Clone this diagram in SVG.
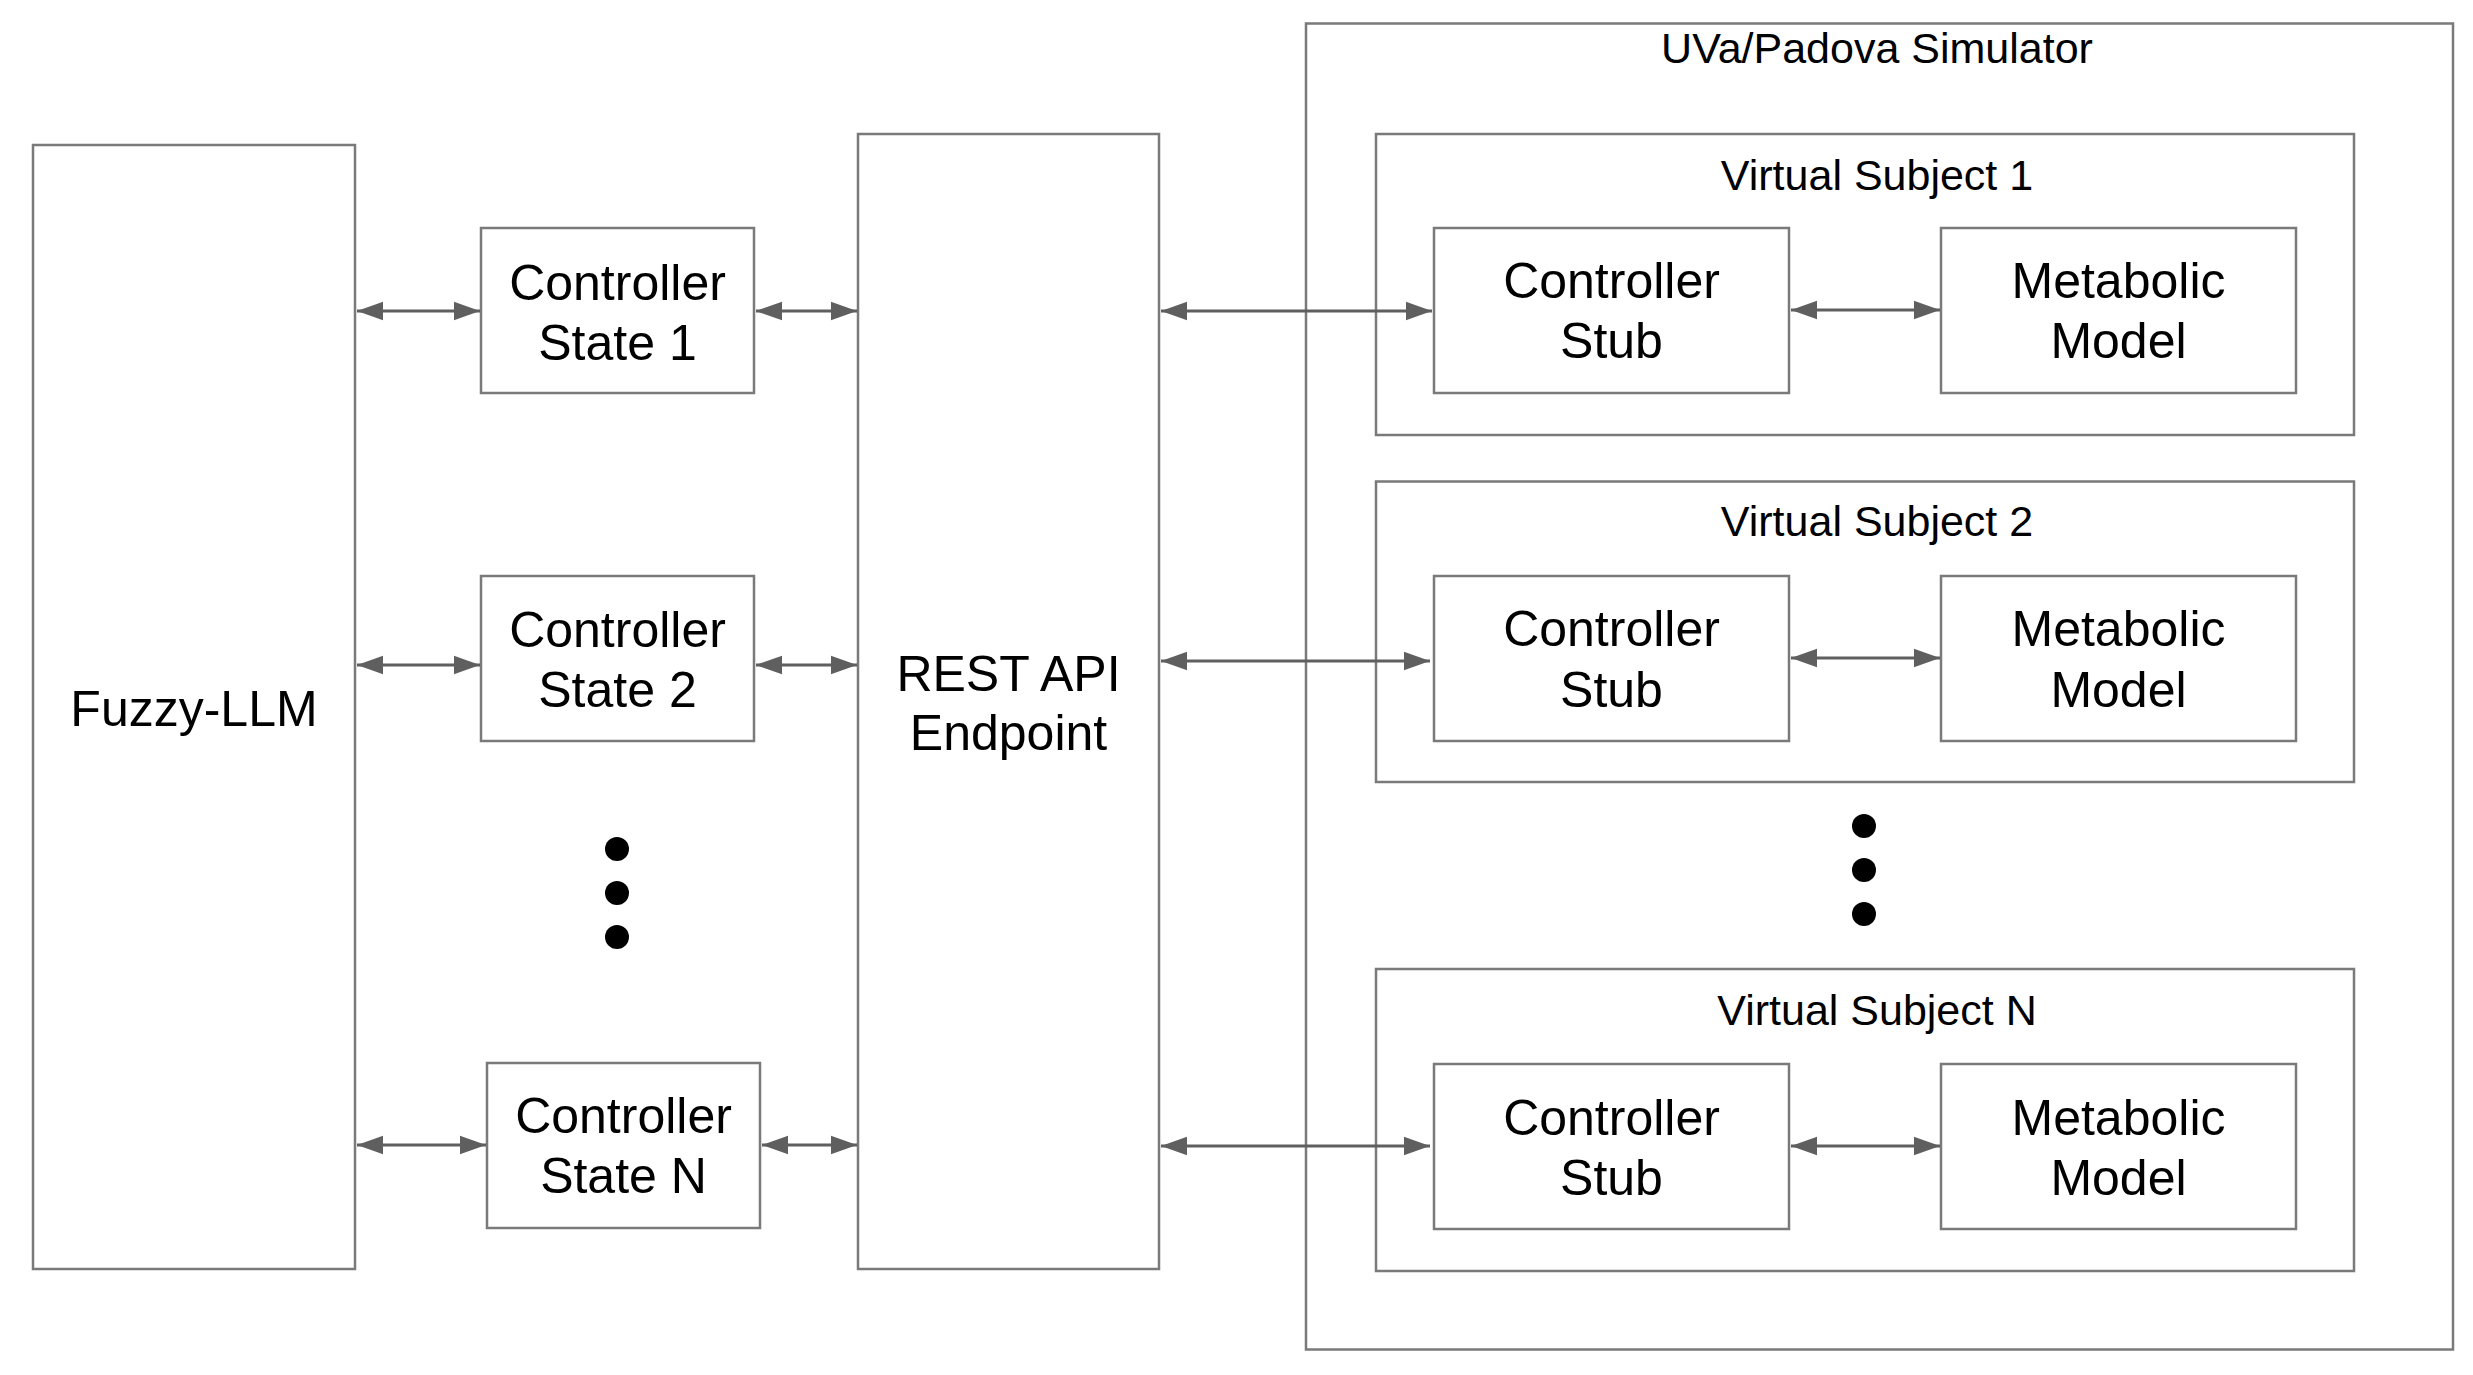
<svg xmlns="http://www.w3.org/2000/svg" width="2473" height="1375" viewBox="0 0 2473 1375">
<style>
.box{fill:#fff;stroke:#7a7a7a;stroke-width:2.5}
.t{font-family:"Liberation Sans",Arial,sans-serif;font-size:50px;fill:#000;text-anchor:middle}
.s{font-size:43px}
.c{stroke:#5f5f5f;stroke-width:3;fill:none;marker-start:url(#ah);marker-end:url(#ah)}
.dot{fill:#000}
</style>
<defs>
<marker id="ah" markerUnits="userSpaceOnUse" markerWidth="26" markerHeight="20" viewBox="0 0 25 18" refX="25" refY="9" orient="auto-start-reverse">
<path d="M0,0 L25,9 L0,18 z" fill="#5f5f5f"/>
</marker>
</defs>
<rect width="2473" height="1375" fill="#fff"/>
<g id="simulator">
<rect class="box" x="1306" y="23.5" width="1147" height="1326"/>
<text class="t s" x="1877" y="63">UVa/Padova Simulator</text>
</g>
<g id="fuzzy-llm">
<rect class="box" x="33" y="145" width="322" height="1124"/>
<text class="t" x="194" y="726">Fuzzy-LLM</text>
</g>
<g id="controller-state-1">
<rect class="box" x="481" y="228" width="273" height="165"/>
<text class="t" x="617.5" y="300">Controller</text>
<text class="t" x="617.5" y="360">State 1</text>
</g>
<g id="controller-state-2">
<rect class="box" x="481" y="576" width="273" height="165"/>
<text class="t" x="617.5" y="647">Controller</text>
<text class="t" x="617.5" y="707">State 2</text>
</g>
<g id="controller-state-n">
<rect class="box" x="487" y="1063" width="273" height="165"/>
<text class="t" x="623.5" y="1133">Controller</text>
<text class="t" x="623.5" y="1193">State N</text>
</g>
<g id="dots-left">
<circle class="dot" cx="617" cy="849" r="12"/>
<circle class="dot" cx="617" cy="893" r="12"/>
<circle class="dot" cx="617" cy="937" r="12"/>
</g>
<g id="rest-api">
<rect class="box" x="858" y="134" width="301" height="1135"/>
<text class="t" x="1008.5" y="691">REST API</text>
<text class="t" x="1008.5" y="750">Endpoint</text>
</g>
<g id="virtual-subject-1">
<rect class="box" x="1376" y="134" width="978" height="301"/>
<text class="t s" x="1877" y="190">Virtual Subject 1</text>
</g>
<g id="controller-stub-1">
<rect class="box" x="1434" y="228" width="355" height="165"/>
<text class="t" x="1611.5" y="298">Controller</text>
<text class="t" x="1611.5" y="358">Stub</text>
</g>
<g id="metabolic-model-1">
<rect class="box" x="1941" y="228" width="355" height="165"/>
<text class="t" x="2118.5" y="298">Metabolic</text>
<text class="t" x="2118.5" y="358">Model</text>
</g>
<g id="virtual-subject-2">
<rect class="box" x="1376" y="481.5" width="978" height="300.5"/>
<text class="t s" x="1877" y="536">Virtual Subject 2</text>
</g>
<g id="controller-stub-2">
<rect class="box" x="1434" y="576" width="355" height="165"/>
<text class="t" x="1611.5" y="646">Controller</text>
<text class="t" x="1611.5" y="707">Stub</text>
</g>
<g id="metabolic-model-2">
<rect class="box" x="1941" y="576" width="355" height="165"/>
<text class="t" x="2118.5" y="646">Metabolic</text>
<text class="t" x="2118.5" y="707">Model</text>
</g>
<g id="dots-right">
<circle class="dot" cx="1864" cy="826" r="12"/>
<circle class="dot" cx="1864" cy="870" r="12"/>
<circle class="dot" cx="1864" cy="914" r="12"/>
</g>
<g id="virtual-subject-n">
<rect class="box" x="1376" y="969" width="978" height="302"/>
<text class="t s" x="1877" y="1025">Virtual Subject N</text>
</g>
<g id="controller-stub-n">
<rect class="box" x="1434" y="1064" width="355" height="165"/>
<text class="t" x="1611.5" y="1135">Controller</text>
<text class="t" x="1611.5" y="1195">Stub</text>
</g>
<g id="metabolic-model-n">
<rect class="box" x="1941" y="1064" width="355" height="165"/>
<text class="t" x="2118.5" y="1135">Metabolic</text>
<text class="t" x="2118.5" y="1195">Model</text>
</g>
<g id="connectors">
<line class="c" x1="357" y1="311" x2="480" y2="311"/>
<line class="c" x1="756" y1="311" x2="857" y2="311"/>
<line class="c" x1="357" y1="665" x2="480" y2="665"/>
<line class="c" x1="756" y1="665" x2="857" y2="665"/>
<line class="c" x1="357" y1="1145" x2="486" y2="1145"/>
<line class="c" x1="762" y1="1145" x2="857" y2="1145"/>
<line class="c" x1="1161" y1="311" x2="1432" y2="311"/>
<line class="c" x1="1791" y1="310" x2="1940" y2="310"/>
<line class="c" x1="1161" y1="661" x2="1430" y2="661"/>
<line class="c" x1="1791" y1="658" x2="1940" y2="658"/>
<line class="c" x1="1161" y1="1146" x2="1430" y2="1146"/>
<line class="c" x1="1791" y1="1146" x2="1940" y2="1146"/>
</g>
</svg>
